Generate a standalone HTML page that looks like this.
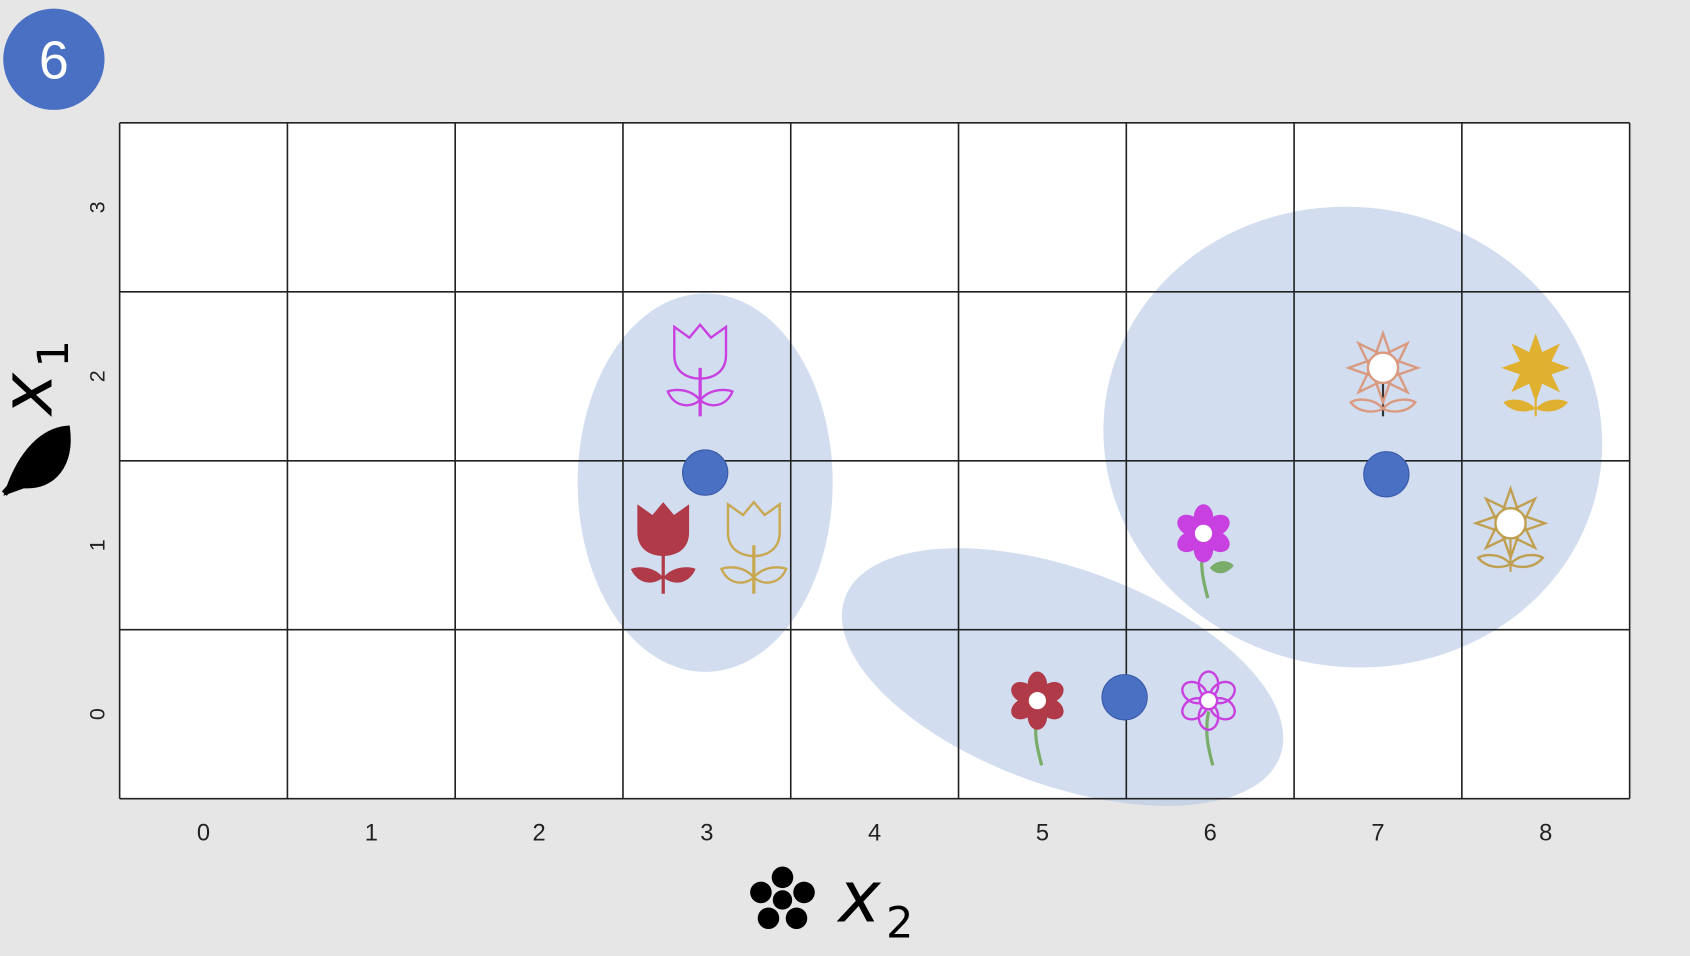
<!DOCTYPE html>
<html><head><meta charset="utf-8"><style>
html,body{margin:0;padding:0;background:#e6e6e6;width:1690px;height:956px;overflow:hidden}
svg{display:block}
</style></head><body>
<svg id="chart" width="1690" height="956" viewBox="0 0 1568 887" preserveAspectRatio="none" xmlns="http://www.w3.org/2000/svg" font-family="'Liberation Sans', sans-serif">
<rect width="1568" height="887" fill="#e6e6e6"/>
<g>
<circle cx="50" cy="55" r="47" fill="#4a70c4"/>
<text x="50" y="73" font-size="50" fill="#fff" text-anchor="middle">6</text>
</g>
<rect x="111" y="114" width="1401" height="627" fill="#fff"/>
<g id="clusters"></g>
<g id="grid"></g>
<g id="ticks"></g>
<g id="flowers"></g>
<g id="centroids"></g>
<g>
<g transform="translate(726,835)" fill="#000">
<circle r="9" cx="0" cy="0"/><circle r="10" cx="0" cy="-21"/><circle r="10" cx="20" cy="-7"/><circle r="10" cx="13" cy="17"/><circle r="10" cx="-13" cy="17"/><circle r="10" cx="-20" cy="-7"/>
</g>
<text x="778" y="855" font-size="66" font-style="italic" font-family="'DejaVu Sans', sans-serif">x</text>
<text x="822" y="870" font-size="40" font-family="'DejaVu Sans', sans-serif">2</text>
</g>
<g>
<path d="M8,455 C20,420 40,400 62,398 C66,430 50,452 22,450 Z M4,458 L30,428" fill="#000" stroke="#000" stroke-width="6"/>
<g transform="translate(48,385) rotate(-90)">
<text x="0" y="0" font-size="66" font-style="italic" font-family="'DejaVu Sans', sans-serif">x</text>
<text x="44" y="15" font-size="40" font-family="'DejaVu Sans', sans-serif">1</text>
</g>
</g>
</svg>
<script>
const xCategories = [0,1,2,3,4,5,6,7,8];
const yCategories = [0,1,2,3];
const flowerX = [2.96, 2.74, 3.28, 4.97, 5.99, 5.96, 7.03, 7.94, 7.79];
const flowerY = [2.05, 1.0, 1.0, 0.08, 0.08, 1.07, 2.05, 2.05, 1.13];
const flowerKind = ['tulip','tulip','tulip','daisy','daisy','daisy','sun','sun','sun'];
const flowerColor = ['#c840e0','#b03a48','#c8a850','#b03a48','#c840e0','#c840e0','#d99a80','#e0b030','#c0a050'];
const flowerFilled = [false,true,false,true,false,true,false,true,false];
const centroidX = [2.99, 5.49, 7.05];
const centroidY = [1.43, 0.1, 1.42];
const clusterCX = [2.99, 5.12, 6.85];
const clusterCY = [1.37, 0.22, 1.64];
const clusterRX = [0.76, 1.38, 1.49];
const clusterRY = [1.12, 0.64, 1.36];
const clusterRot = [0, 20, 10];

const L=111,R=1512,T=114,B=741;
const cw=(R-L)/xCategories.length, rh=(B-T)/yCategories.length;
const sx=v=>L+(v+0.5)*cw;
const sy=v=>B-(v+0.5)*rh;
const NS='http://www.w3.org/2000/svg';
function mk(tag,attrs,parent){const e=document.createElementNS(NS,tag);for(const k in attrs)e.setAttribute(k,attrs[k]);parent.appendChild(e);return e;}

const cl=document.getElementById('clusters');
clusterCX.forEach((c,i)=>{
  const e=mk('ellipse',{cx:sx(c),cy:sy(clusterCY[i]),rx:clusterRX[i]*cw,ry:clusterRY[i]*rh,fill:'#b4c6e6','fill-opacity':'0.6',transform:`rotate(${clusterRot[i]} ${sx(c)} ${sy(clusterCY[i])})`},cl);
  
  
});
const g=document.getElementById('grid');
for(let i=0;i<=xCategories.length;i++){const l=mk('line',{x1:L+i*cw,x2:L+i*cw,y1:T,y2:B,stroke:'#222','stroke-width':1.5},g);}
for(let j=0;j<=yCategories.length;j++){const l=mk('line',{x1:L,x2:R,y1:T+j*rh,y2:T+j*rh,stroke:'#222','stroke-width':1.5},g);}
const tk=document.getElementById('ticks');
xCategories.forEach(v=>{const t=mk('text',{x:sx(v),y:780,'font-size':22,'text-anchor':'middle',fill:'#222'},tk);t.textContent=v;});
yCategories.forEach(v=>{const t=mk('text',{x:0,y:0,'font-size':20,'text-anchor':'middle',fill:'#222',transform:`translate(97,${sy(v)}) rotate(-90)`},tk);t.textContent=v;});

const fl=document.getElementById('flowers');
flowerX.forEach((v,i)=>{
  const x=sx(v),y=sy(flowerY[i]),c=flowerColor[i],f=flowerFilled[i];
  const grp=mk('g',{transform:`translate(${x},${y})`},fl);
  
  
  const fill=f?c:'none', sw=f?0:2.2;
  const stemC=flowerKind[i]==='daisy'?'#7aac6a':c;
  if(flowerKind[i]==='tulip'){
    mk('path',{d:'M0,0 L0,45',stroke:c,'stroke-width':3,fill:'none'},grp);
    mk('path',{d:'M0,30 C10,18 26,20 30,22 C24,36 10,38 0,30 Z',fill,stroke:c,'stroke-width':sw},grp);
    mk('path',{d:'M0,30 C-10,18 -26,20 -30,22 C-24,36 -10,38 0,30 Z',fill,stroke:c,'stroke-width':sw},grp);
    mk('path',{d:'M-24,-38 L-10,-28 L0,-40 L10,-28 L24,-38 L24,-12 C24,4 12,10 0,10 C-12,10 -24,4 -24,-12 Z',fill,stroke:c,'stroke-width':sw},grp);
  } else if(flowerKind[i]==='daisy'){
    mk('path',{d:'M0,10 C-4,30 0,45 4,60',stroke:stemC,'stroke-width':3,fill:'none'},grp);
    if(i===5) mk('path',{d:'M6,32 C14,22 26,26 28,30 C20,40 10,38 6,32 Z',fill:'#7aac6a'},grp);
    for(let k=0;k<6;k++){const a=k*60;mk('ellipse',{cx:0,cy:-15,rx:9,ry:12,fill,stroke:c,'stroke-width':sw,transform:`rotate(${a})`},grp);}
    mk('circle',{r:8,fill:'#fff',stroke:f?'none':c,'stroke-width':sw},grp);
  } else {
    mk('path',{d:'M0,10 L0,45',stroke:i===6?'#333':c,'stroke-width':2,fill:'none'},grp);
    mk('path',{d:'M0,38 C8,28 24,28 30,32 C22,42 8,42 0,38 Z M0,38 C-8,28 -24,28 -30,32 C-22,42 -8,42 0,38 Z',fill,stroke:c,'stroke-width':sw},grp);
    for(let k=0;k<8;k++){const a=k*45;mk('path',{d:'M-7,-12 L0,-32 L7,-12 Z',fill,stroke:c,'stroke-width':sw,transform:`rotate(${a})`},grp);}
    mk('circle',{r:14,fill:f?c:'#fff',stroke:c,'stroke-width':f?0:2.2},grp);
  }
});
const ce=document.getElementById('centroids');
centroidX.forEach((v,i)=>{const c=mk('circle',{cx:sx(v),cy:sy(centroidY[i]),r:21,fill:'#4a70c4',stroke:'#3a5aa8','stroke-width':1},ce);});
</script>
</body></html>
